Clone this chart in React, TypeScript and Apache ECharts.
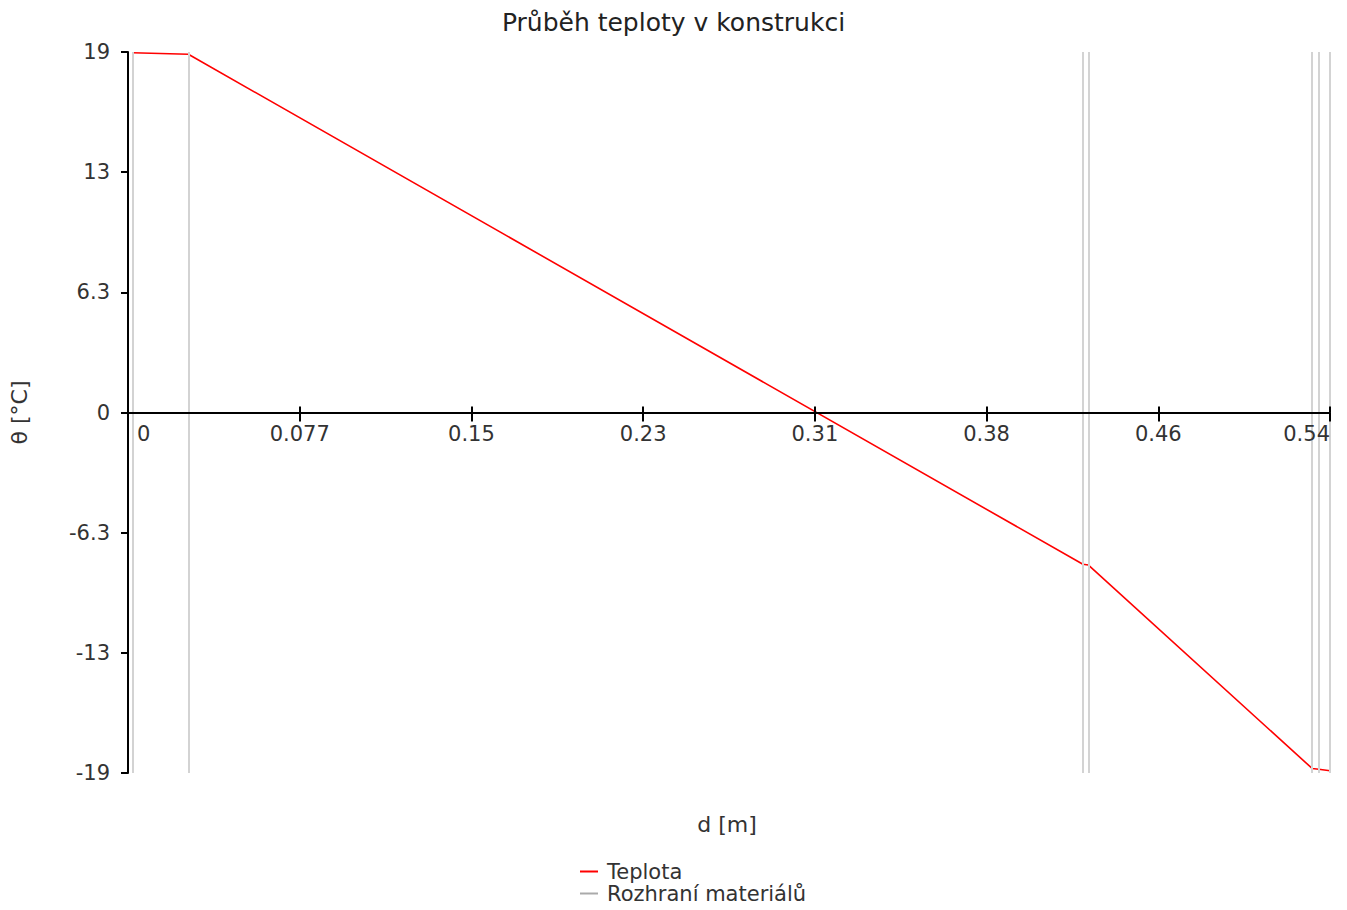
import React, { useEffect, useRef } from 'react';
import * as echarts from 'echarts';

const TITLE = 'Průběh teploty v konstrukci';
const X_NAME = 'd [m]';
const Y_NAME = 'θ [°C]';
const SERIES_TEMP = 'Teplota';
const SERIES_IFACE = 'Rozhraní materiálů';

// total thickness of the construction [m] and temperature limits [°C]
const THICKNESS = 0.5375;
const Y_LIMIT = 19;

// positions of material interfaces [m]
const interfaces = [0, 0.002, 0.027, 0.427, 0.4295, 0.5295, 0.5325, 0.5375];

// temperature profile
const depth = [0.002, 0.027, 0.427, 0.4295, 0.5295, 0.5325, 0.5375, 0.5375];
const temperature = [18.96, 18.88, -8.0, -8.04, -18.76, -18.8, -18.88, -19];

// tick positions (7 equal x steps, 3 equal y steps each side)
const xTicks = [0, 1, 2, 3, 4, 5, 6, 7].map((k) => (k * THICKNESS) / 7);
const yTicks = [-3, -2, -1, 0, 1, 2, 3].map((k) => (k * Y_LIMIT) / 3);

const FONT = 'DejaVu Sans';
const TICK_FS = 21;
const NAME_FS = 22;

function fmt(v: number): string {
  if (Math.abs(v) < 1e-9) return '0';
  return String(Number(v.toPrecision(2)));
}

export default function App() {
  const ref = useRef<HTMLDivElement>(null);

  useEffect(() => {
    if (!ref.current) return;
    const chart = echarts.init(ref.current, undefined, { renderer: 'svg' });
    const option: any = {
      animation: false,
      backgroundColor: '#ffffff',
      textStyle: { fontFamily: FONT },
      title: {
        text: TITLE,
        left: 'center',
        top: 10,
        padding: 0,
        textStyle: { fontSize: 25, fontWeight: 'normal', color: '#222', fontFamily: FONT },
      },
      legend: {
        orient: 'vertical',
        left: 580,
        top: 861,
        padding: 0,
        itemWidth: 18,
        itemHeight: 2,
        itemGap: 1,
        selectedMode: false,
        textStyle: {
          fontSize: 21,
          color: '#333',
          lineHeight: 21,
          fontFamily: FONT,
          padding: [0, 0, 0, 4],
        },
        data: [
          { name: SERIES_TEMP, icon: 'rect' },
          { name: SERIES_IFACE, icon: 'rect' },
        ],
      },
      grid: [
        { left: 128, right: 17, top: 52, bottom: 137 },
        { left: 128, right: 17, top: 52, bottom: 497.5 },
      ],
      xAxis: [
        {
          type: 'value',
          gridIndex: 0,
          min: 0,
          max: THICKNESS,
          show: false,
          splitLine: { show: false },
        },
        {
          type: 'value',
          gridIndex: 1,
          min: 0,
          max: THICKNESS,
          position: 'bottom',
          z: 5,
          axisLine: { onZero: false, lineStyle: { color: '#000', width: 2 } },
          axisTick: { customValues: xTicks, length: 9, lineStyle: { color: '#000', width: 2 } },
          axisLabel: {
            customValues: xTicks,
            margin: 11,
            fontSize: TICK_FS,
            color: '#333',
            fontFamily: FONT,
            alignMinLabel: 'left',
            alignMaxLabel: 'right',
            formatter: (v: number) => (Math.abs(v) < 1e-9 ? '{z|0}' : fmt(v)),
            rich: { z: { fontSize: TICK_FS, color: '#333', fontFamily: FONT, padding: [0, 0, 0, 9] } },
          },
          splitLine: { show: false },
        },
        {
          type: 'value',
          gridIndex: 1,
          min: 0,
          max: THICKNESS,
          position: 'bottom',
          z: 5,
          axisLine: { show: false, onZero: false },
          axisTick: { inside: true, customValues: xTicks, length: 6, lineStyle: { color: '#000', width: 2 } },
          axisLabel: { show: false },
          splitLine: { show: false },
        },
      ],
      yAxis: [
        {
          type: 'value',
          gridIndex: 0,
          min: -Y_LIMIT,
          max: Y_LIMIT,
          z: 5,
          name: Y_NAME,
          nameLocation: 'middle',
          nameGap: 98,
          nameTextStyle: { fontSize: NAME_FS, color: '#333', fontFamily: FONT },
          axisLine: { onZero: false, lineStyle: { color: '#000', width: 2 } },
          axisTick: { customValues: yTicks, length: 7, lineStyle: { color: '#000', width: 2 } },
          axisLabel: {
            customValues: yTicks,
            margin: 18,
            fontSize: TICK_FS,
            color: '#333',
            fontFamily: FONT,
            formatter: (v: number) => fmt(v),
          },
          splitLine: { show: false },
        },
        {
          type: 'value',
          gridIndex: 1,
          min: 0,
          max: 1,
          show: false,
          splitLine: { show: false },
        },
      ],
      graphic: [
        {
          type: 'text',
          x: 727,
          y: 824,
          style: {
            text: X_NAME,
            fontSize: NAME_FS,
            fill: '#333',
            fontFamily: FONT,
            align: 'center',
            verticalAlign: 'middle',
          },
        },
      ],
      series: [
        {
          name: SERIES_IFACE,
          type: 'line',
          xAxisIndex: 0,
          yAxisIndex: 0,
          data: [],
          color: '#aaaaaa',
          z: 2,
          markLine: {
            silent: true,
            symbol: 'none',
            precision: 6,
            animation: false,
            label: { show: false },
            lineStyle: { color: '#d3d3d3', type: 'solid', width: 2 },
            data: interfaces.map((v) => ({ xAxis: v })),
          },
        },
        {
          name: SERIES_TEMP,
          type: 'line',
          xAxisIndex: 0,
          yAxisIndex: 0,
          data: depth.map((d, i) => [d, temperature[i]]),
          showSymbol: false,
          color: '#ff0000',
          lineStyle: { width: 1.6, color: '#ff0000' },
          z: 3,
        },
      ],
    };
    chart.setOption(option);
    return () => chart.dispose();
  }, []);

  return (
    <div
      ref={ref}
      style={{ position: 'fixed', left: 0, top: 0, width: 1347, height: 910 }}
    />
  );
}
